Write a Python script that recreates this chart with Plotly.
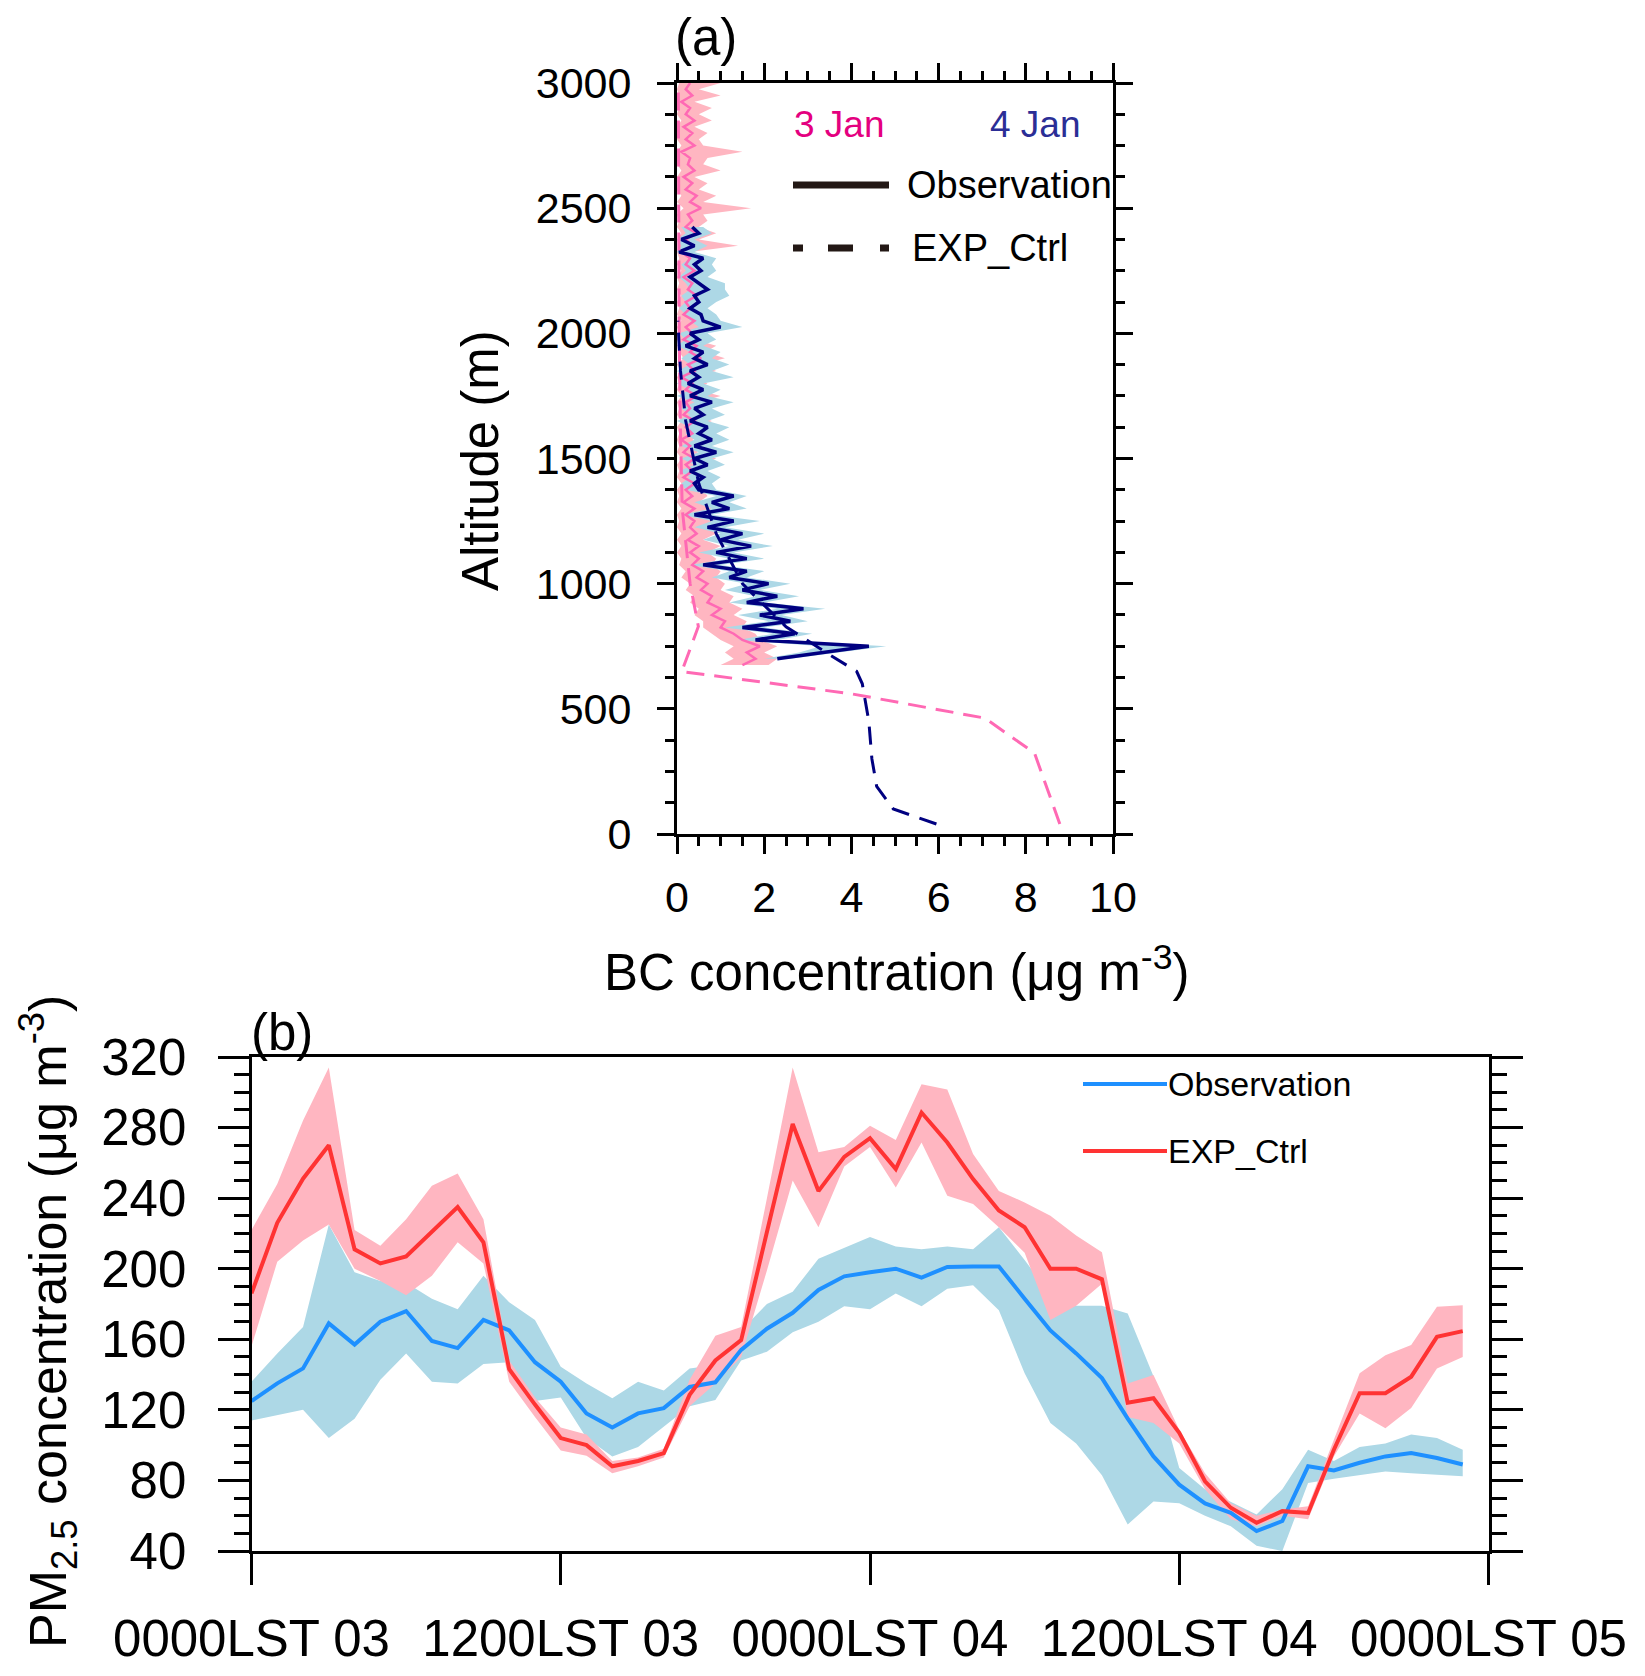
import plotly.graph_objects as go

# ---------------- panel (a): BC vertical profiles ----------------
alt_3jan = list(range(675, 3001, 25))
bc_obs_3jan = [1.5, 1.8, 1.6, 1.9, 1.5, 1.3, 1.0, 1.1, 0.8, 1.0,
               0.7, 0.8, 0.55, 0.7, 0.45, 0.6, 0.35, 0.5, 0.3, 0.5,
               0.25, 0.45, 0.3, 0.4, 0.2, 0.4, 0.15, 0.35, 0.2, 0.4,
               0.15, 0.35, 0.2, 0.4, 0.15, 0.3, 0.1, 0.35, 0.2, 0.4,
               0.15, 0.3, 0.2, 0.45, 0.2, 0.35, 0.1, 0.4, 0.25, 0.55,
               0.3, 0.45, 0.15, 0.35, 0.2, 0.4, 0.15, 0.3, 0.2, 0.45,
               0.25, 0.35, 0.15, 0.4, 0.2, 0.3, 0.1, 0.35, 0.2, 0.45,
               0.2, 0.35, 0.25, 0.55, 0.3, 0.45, 0.2, 0.35, 0.15, 0.4,
               0.25, 0.3, 0.1, 0.4, 0.2, 0.35, 0.15, 0.4, 0.2, 0.3,
               0.1, 0.35, 0.2, 0.3]
bc_obs_3jan_hi = [2.1, 2.3, 2.0, 2.3, 1.9, 1.8, 1.5, 1.6, 1.3, 1.5,
                  1.2, 1.3, 1.0, 1.1, 0.9, 1.0, 0.8, 0.9, 0.7, 1.0,
                  0.6, 0.9, 0.7, 0.8, 0.5, 0.8, 0.5, 0.7, 0.6, 0.8,
                  0.4, 0.7, 0.5, 0.9, 0.45, 0.6, 0.35, 0.8, 0.5, 0.8,
                  0.4, 0.6, 0.5, 1.0, 0.45, 0.7, 0.35, 0.9, 0.55, 1.1,
                  0.65, 0.9, 0.4, 0.7, 0.5, 0.8, 0.4, 0.6, 0.5, 0.9,
                  0.5, 0.7, 0.4, 0.8, 0.5, 0.6, 0.3, 1.4, 0.5, 0.9,
                  0.5, 0.7, 0.6, 1.7, 0.6, 0.9, 0.5, 0.7, 0.4, 1.0,
                  0.6, 0.7, 1.5, 0.6, 0.5, 0.7, 0.4, 0.8, 0.5, 0.8,
                  0.4, 1.0, 0.5, 1.0]
bc_obs_3jan_lo = [1.0, 1.3, 1.1, 1.3, 1.0, 0.8, 0.6, 0.6, 0.4, 0.5,
                  0.3, 0.4, 0.2, 0.3, 0.1, 0.2, 0.05, 0.1, 0.0, 0.1,
                  0.0, 0.1, 0.0, 0.05, 0.0, 0.1, 0.0, 0.05, 0.0, 0.1,
                  0.0, 0.05, 0.0, 0.1, 0.0, 0.05, 0.0, 0.05, 0.0, 0.1,
                  0.0, 0.05, 0.0, 0.1, 0.0, 0.05, 0.0, 0.1, 0.0, 0.15,
                  0.05, 0.1, 0.0, 0.05, 0.0, 0.1, 0.0, 0.05, 0.0, 0.1,
                  0.0, 0.05, 0.0, 0.1, 0.0, 0.05, 0.0, 0.05, 0.0, 0.1,
                  0.0, 0.05, 0.0, 0.15, 0.0, 0.1, 0.0, 0.05, 0.0, 0.1,
                  0.0, 0.05, 0.0, 0.1, 0.0, 0.05, 0.0, 0.1, 0.0, 0.05,
                  0.0, 0.05, 0.0, 0.05]

alt_4jan = list(range(700, 2426, 25))
bc_obs_4jan = [2.3, 3.3, 4.4, 1.8, 2.7, 1.5, 2.6, 1.9, 2.9, 1.6,
               2.3, 1.5, 2.1, 1.2, 1.6, 0.6, 1.6, 0.9, 1.7, 1.0,
               1.5, 0.7, 1.3, 0.4, 1.2, 0.8, 1.3, 0.5, 0.4, 0.6,
               0.3, 0.7, 0.4, 0.9, 0.4, 0.8, 0.5, 0.7, 0.3, 0.6,
               0.4, 0.8, 0.3, 0.6, 0.25, 0.5, 0.3, 0.7, 0.4, 0.6,
               0.2, 0.5, 0.3, 1.0, 0.6, 0.55, 0.3, 0.5, 0.4, 0.7,
               0.5, 0.3, 0.55, 0.4, 0.6, 0.05, 0.4, 0.1, 0.5, 0.35]
bc_obs_4jan_hi = [2.6, 3.7, 4.8, 2.3, 3.1, 2.0, 3.0, 2.4, 3.4, 2.0,
                  2.8, 1.9, 2.6, 1.6, 2.0, 1.0, 2.0, 1.3, 2.2, 1.4,
                  2.0, 1.1, 1.9, 0.8, 1.6, 1.2, 1.6, 0.9, 0.8, 1.0,
                  0.7, 1.1, 0.8, 1.3, 0.8, 1.2, 0.9, 1.2, 0.7, 1.1,
                  0.8, 1.3, 0.7, 1.0, 0.6, 1.3, 0.8, 1.2, 0.8, 1.0,
                  0.6, 0.9, 0.7, 1.5, 1.0, 0.9, 0.7, 0.9, 1.2, 1.1,
                  1.1, 0.7, 0.9, 0.8, 0.9, 0.4, 0.7, 0.4, 0.8, 0.6]
bc_obs_4jan_lo = [2.0, 2.8, 3.3, 1.4, 2.2, 1.1, 2.1, 1.4, 2.3, 1.2,
                  1.8, 1.1, 1.6, 0.8, 1.2, 0.3, 1.2, 0.5, 1.2, 0.6,
                  1.0, 0.4, 0.8, 0.1, 0.8, 0.4, 0.9, 0.2, 0.1, 0.3,
                  0.05, 0.4, 0.1, 0.5, 0.1, 0.4, 0.2, 0.3, 0.0, 0.3,
                  0.1, 0.4, 0.0, 0.3, 0.0, 0.2, 0.0, 0.3, 0.1, 0.3,
                  0.0, 0.2, 0.05, 0.5, 0.3, 0.2, 0.05, 0.2, 0.1, 0.3,
                  0.2, 0.05, 0.2, 0.1, 0.3, 0.0, 0.1, 0.0, 0.2, 0.1]

exp_alt_3jan = [40, 180, 323, 463, 560, 649, 829, 1000, 1300, 1600, 2000, 2500, 3000]
bc_exp_3jan = [8.78, 8.5, 8.2, 7.06, 4.0, 0.11, 0.49, 0.3, 0.12, 0.08, 0.05, 0.04, 0.03]
exp_alt_4jan = [40, 100, 190, 300, 450, 600, 650, 716, 828, 1000, 1200, 1400, 1650, 1850, 2050]
bc_exp_4jan = [5.95, 4.96, 4.58, 4.47, 4.4, 4.25, 4.12, 3.5, 2.5, 1.5, 0.9, 0.5, 0.2, 0.08, 0.02]

# ---------------- panel (b): PM2.5 time series ----------------
hours = list(range(48))
pm_obs = [125, 135, 143.5, 169, 157, 170, 176, 159, 155, 171,
          165, 147, 136, 118, 110, 118, 121, 133, 135.6, 154,
          166, 175, 188, 195.7, 198, 200, 195, 201, 201.3, 201.3,
          183, 165, 152, 138, 115, 93.6, 77.6, 67, 61.6, 51.3,
          57, 88, 85.7, 90, 93.6, 95.5, 92.7, 89]
pm_obs_hi = [136, 152, 167, 225, 198, 193, 192, 183, 177, 196,
             181, 171, 144.5, 135, 126.6, 136, 131, 143.5, 145.4, 165,
             180, 187, 205.6, 212, 218, 212.6, 211, 212.6, 211, 223.5,
             205, 185, 179, 179, 174.6, 139, 87, 75, 68, 60.7,
             75, 97.4, 91, 99, 101, 106, 104, 97.4]
pm_obs_lo = [114, 117, 120, 104, 115, 137, 152, 136, 135, 146,
             147, 125, 127, 104, 93.6, 99, 110.6, 122, 125.6, 148,
             153, 164, 170, 178.7, 177, 186, 178.7, 188.7, 190.6, 176.5,
             140.7, 112.5, 101, 83, 55, 68, 67, 60, 54, 43,
             40, 78.6, 81, 83, 85, 84, 83, 82.4]
pm_exp = [186, 226, 251, 270, 211, 203, 207, 221, 235, 215,
          143, 123, 104, 100, 88, 91, 95.5, 128.5, 148, 159.5,
          221, 282, 244, 263.4, 274, 256.5, 288.5, 271.5, 250.8, 233,
          223.5, 200, 200, 194, 124, 126.6, 107, 79.5, 64.5, 56,
          62.6, 61.6, 97.4, 129.4, 129.4, 138.8, 161.4, 164.6]
pm_exp_hi = [222, 248, 284, 314, 222, 213, 228, 247, 254, 228,
             148, 127, 110, 106, 91, 93, 98, 137, 162, 167,
             240, 314, 266, 269, 281, 273, 304.5, 301.6, 265, 244,
             237.6, 230, 218.8, 209.4, 135, 139.8, 108.7, 84, 67, 60,
             63.5, 65.4, 103, 140.7, 151, 156.7, 178.4, 179.3]
pm_exp_lo = [156, 204, 216, 225, 200, 193, 185, 196, 215, 203,
             136, 116, 97, 94, 84, 88, 93, 122, 135, 150,
             199, 250, 223.5, 258, 269, 246, 271.5, 241.4, 236.7, 223.5,
             209, 171, 179, 191.5, 116, 112.5, 101, 75, 58, 54,
             60, 58, 93.6, 118, 109.6, 121, 143.5, 150]
time_ticks = [0, 12, 24, 36, 48]
time_labels = ["0000LST 03", "1200LST 03", "0000LST 04", "1200LST 04", "0000LST 05"]

# ---------------- layout helpers (pixel -> paper) ----------------
W, H = 1645, 1676


def px(x):
    return x / W


def py(y):
    return 1 - y / H


FONT = "Liberation Sans, Arial, Helvetica, sans-serif"
PINK_LINE, PINK_FILL = "#FF69B4", "#FFB6C1"
NAVY, BLUE_FILL = "#000080", "#ADD8E6"
OBS_BLUE, EXP_RED = "#1E90FF", "#FF3333"

fig = go.Figure()

# panel (a) bands
fig.add_trace(go.Scatter(x=bc_obs_3jan_lo, y=alt_3jan, mode="lines", line=dict(width=0),
                         xaxis="x2", yaxis="y2", showlegend=False, hoverinfo="skip"))
fig.add_trace(go.Scatter(x=bc_obs_3jan_hi, y=alt_3jan, mode="lines", line=dict(width=0),
                         fill="tonextx", fillcolor=PINK_FILL,
                         xaxis="x2", yaxis="y2", showlegend=False, hoverinfo="skip"))
fig.add_trace(go.Scatter(x=bc_obs_4jan_lo, y=alt_4jan, mode="lines", line=dict(width=0),
                         xaxis="x2", yaxis="y2", showlegend=False, hoverinfo="skip"))
fig.add_trace(go.Scatter(x=bc_obs_4jan_hi, y=alt_4jan, mode="lines", line=dict(width=0),
                         fill="tonextx", fillcolor=BLUE_FILL,
                         xaxis="x2", yaxis="y2", showlegend=False, hoverinfo="skip"))
# panel (a) observation lines
fig.add_trace(go.Scatter(x=bc_obs_3jan, y=alt_3jan, mode="lines",
                         line=dict(color=PINK_LINE, width=2.5),
                         xaxis="x2", yaxis="y2", showlegend=False))
fig.add_trace(go.Scatter(x=bc_obs_4jan, y=alt_4jan, mode="lines",
                         line=dict(color=NAVY, width=3.5),
                         xaxis="x2", yaxis="y2", showlegend=False))
# panel (a) model lines
fig.add_trace(go.Scatter(x=bc_exp_3jan, y=exp_alt_3jan, mode="lines",
                         line=dict(color=PINK_LINE, width=3, dash="18px,10px"),
                         xaxis="x2", yaxis="y2", showlegend=False))
fig.add_trace(go.Scatter(x=bc_exp_4jan, y=exp_alt_4jan, mode="lines",
                         line=dict(color=NAVY, width=3, dash="18px,11px"),
                         xaxis="x2", yaxis="y2", showlegend=False))

# panel (b) bands
fig.add_trace(go.Scatter(x=hours, y=pm_obs_lo, mode="lines", line=dict(width=0),
                         showlegend=False, hoverinfo="skip"))
fig.add_trace(go.Scatter(x=hours, y=pm_obs_hi, mode="lines", line=dict(width=0),
                         fill="tonexty", fillcolor=BLUE_FILL, showlegend=False, hoverinfo="skip"))
fig.add_trace(go.Scatter(x=hours, y=pm_exp_lo, mode="lines", line=dict(width=0),
                         showlegend=False, hoverinfo="skip"))
fig.add_trace(go.Scatter(x=hours, y=pm_exp_hi, mode="lines", line=dict(width=0),
                         fill="tonexty", fillcolor=PINK_FILL, showlegend=False, hoverinfo="skip"))
fig.add_trace(go.Scatter(x=hours, y=pm_obs, mode="lines",
                         line=dict(color=OBS_BLUE, width=4), showlegend=False))
fig.add_trace(go.Scatter(x=hours, y=pm_exp, mode="lines",
                         line=dict(color=EXP_RED, width=4), showlegend=False))

axis_common = dict(showgrid=False, zeroline=False, showline=True, linecolor="black",
                   linewidth=3, ticks="outside", tickcolor="black", tickwidth=3,
                   tickfont=dict(family=FONT, color="black"))

fig.update_layout(
    width=W, height=H, autosize=False,
    margin=dict(l=0, r=0, t=0, b=0, autoexpand=False),
    paper_bgcolor="white", plot_bgcolor="white",
    font=dict(family=FONT, color="black"),
    # panel (b)
    xaxis=dict(axis_common, domain=[px(251.5), px(1488.5)], range=[0, 48],
               tickvals=time_ticks, ticktext=time_labels, ticklen=31, tickangle=0,
               tickfont=dict(family=FONT, size=51, color="black"),
               ticklabelstandoff=10, mirror=True, anchor="y"),
    yaxis=dict(axis_common, domain=[py(1551), py(1057)], range=[40, 320],
               dtick=40, ticklen=31, tickfont=dict(family=FONT, size=51, color="black"),
               ticklabelstandoff=21, mirror="ticks", anchor="x",
               minor=dict(dtick=10, ticklen=15, tickwidth=3, ticks="outside",
                          tickcolor="black", showgrid=False)),
    # panel (a)
    xaxis2=dict(axis_common, domain=[px(677), px(1113)], range=[0, 10], dtick=2,
                ticklen=17, tickangle=0, tickfont=dict(family=FONT, size=43, color="black"),
                ticklabelstandoff=6, mirror="ticks", anchor="y2",
                minor=dict(dtick=0.5, ticklen=9, tickwidth=3, ticks="outside",
                           tickcolor="black", showgrid=False)),
    yaxis2=dict(axis_common, domain=[py(834), py(83)], range=[0, 3000], dtick=500,
                ticklen=17, tickfont=dict(family=FONT, size=43, color="black"),
                ticklabelstandoff=17, mirror="ticks", anchor="x2",
                minor=dict(dtick=125, ticklen=9, tickwidth=3, ticks="outside",
                           tickcolor="black", showgrid=False)),
)

# legend of panel (a): line styles
fig.add_shape(type="line", xref="paper", yref="paper", x0=px(793), x1=px(889),
              y0=py(185), y1=py(185), line=dict(color="#231815", width=7))
fig.add_shape(type="line", xref="paper", yref="paper", x0=px(793), x1=px(889),
              y0=py(248), y1=py(248), line=dict(color="#231815", width=7, dash="10px,25px,25px,27px"))
# legend of panel (b)
fig.add_shape(type="line", xref="paper", yref="paper", x0=px(1083), x1=px(1167),
              y0=py(1084), y1=py(1084), line=dict(color=OBS_BLUE, width=4))
fig.add_shape(type="line", xref="paper", yref="paper", x0=px(1083), x1=px(1167),
              y0=py(1151), y1=py(1151), line=dict(color=EXP_RED, width=4))


def label(text, x, y, size, color="black", xanchor="center", angle=0):
    fig.add_annotation(text=text, x=px(x), y=py(y), xref="paper", yref="paper",
                       xanchor=xanchor, yanchor="middle", showarrow=False, textangle=angle,
                       font=dict(family=FONT, size=size, color=color))


label("(a)", 706, 38, 51)
label("(b)", 282, 1032, 51)
label("3 Jan", 840, 125, 37, color="#E4007F")
label("4 Jan", 1035, 125, 37, color="#2B2E96")
label("Observation", 905, 185, 38, xanchor="left")
label("EXP_Ctrl", 910, 248, 38, xanchor="left")
label("Observation", 1166, 1084, 34, xanchor="left")
label("EXP_Ctrl", 1166, 1151, 34, xanchor="left")
label("BC concentration (μg m<sup>-3</sup>)", 897, 969, 51)
label("Altitude (m)", 480, 461, 51, angle=-90)
label("PM<sub>2.5</sub> concentration (μg m<sup>-3</sup>)", 48, 1322, 52, angle=-90)

fig.write_html("out.html", config={"displayModeBar": False},
               post_script="document.body.style.margin='0';")
